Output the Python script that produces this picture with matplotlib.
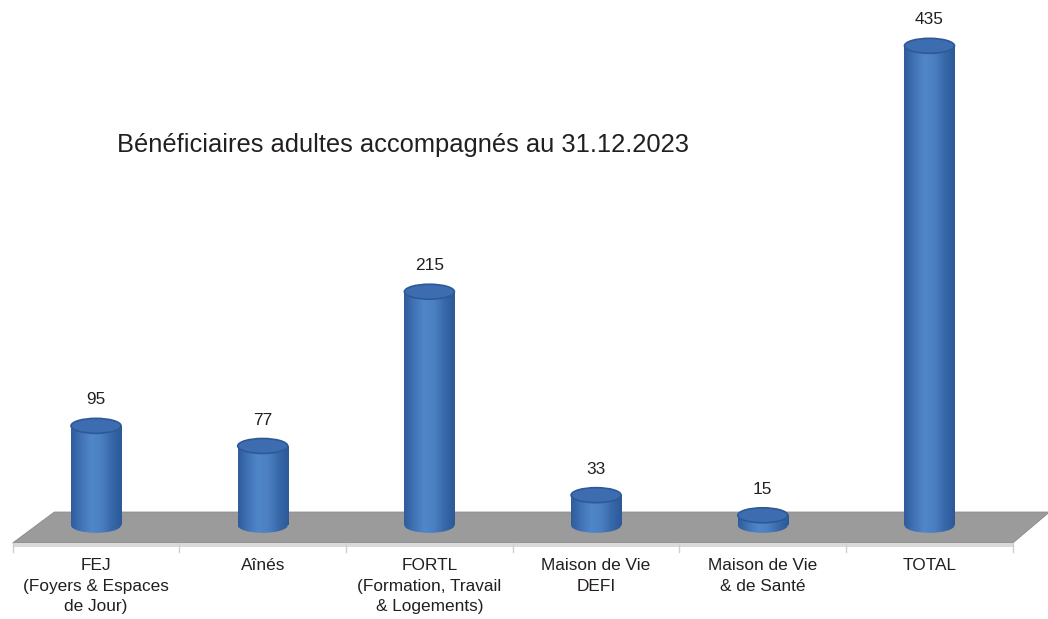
import numpy as np
import matplotlib
matplotlib.use("Agg")
import matplotlib.pyplot as plt
from matplotlib.patches import Ellipse, Polygon
from matplotlib.colors import LinearSegmentedColormap

plt.rcParams["font.family"] = ["Liberation Sans", "DejaVu Sans"]

title = "Bénéficiaires adultes accompagnés au 31.12.2023"
categories = [
    "FEJ\n(Foyers & Espaces\nde Jour)",
    "Aînés",
    "FORTL\n(Formation, Travail\n& Logements)",
    "Maison de Vie\nDEFI",
    "Maison de Vie\n& de Santé",
    "TOTAL",
]
values = [95, 77, 215, 33, 15, 435]

# look of the fake 3D chart
bar_w = 0.30          # cylinder width (category units)
ell_h = 13.4          # ellipse height (value units)
base = 6              # where the cylinders stand on the floor
text_col = "#231f20"

cyl_cmap = LinearSegmentedColormap.from_list(
    "cyl", ["#2e5c9c", "#4274b7", "#5087c9", "#4b7fc1", "#3869aa", "#2c5998"])
grad = cyl_cmap(np.linspace(0, 1, 64))[None, :, :3]

fig = plt.figure(figsize=(10.48, 6.19), dpi=100)
ax = fig.add_axes([0, 0, 1, 1])
ax.axis("off")

x = np.arange(len(categories))
n = len(categories)

# floor
front, back = -9.8, 17.9
shift = 0.22
floor = Polygon([(-0.5, front), (n - 0.5, front), (n - 0.5 + shift, back), (-0.5 + shift + 0.03, back)],
                closed=True, facecolor="#9b9b9b", edgecolor="#8a8a8a", lw=0.6, zorder=1)
ax.add_patch(floor)
strip = Polygon([(-0.5, front), (n - 0.5, front), (n - 0.5, front - 3.2), (-0.5, front - 3.2)],
                closed=True, facecolor="#d9d9d9", edgecolor="none", zorder=1)
ax.add_patch(strip)
for b in np.arange(n + 1) - 0.5:
    ax.plot([b, b], [front, front - 8], color="#cfcfcf", lw=1, zorder=1)

# cylinders
bars = ax.bar(x, np.array(values) - base, bottom=base, width=bar_w,
              color="#3f72b6", edgecolor="none", zorder=3)
for xi, v, rect in zip(x, values, bars):
    bottom = Ellipse((xi, base), bar_w, ell_h, facecolor="none", edgecolor="none", zorder=3)
    ax.add_patch(bottom)
    im = ax.imshow(grad, extent=[xi - bar_w / 2, xi + bar_w / 2, base - ell_h, v],
                   aspect="auto", zorder=3, interpolation="bilinear")
    im.set_clip_path(rect)
    im2 = ax.imshow(grad, extent=[xi - bar_w / 2, xi + bar_w / 2, base - ell_h, v],
                    aspect="auto", zorder=3, interpolation="bilinear")
    im2.set_clip_path(bottom)
    ax.add_patch(Ellipse((xi, v), bar_w, ell_h, facecolor="#3d6db0",
                         edgecolor="#2d5a96", lw=1.2, zorder=4))
    ax.annotate(str(v), (xi, v), xytext=(0, 18.7), textcoords="offset points",
                ha="center", va="center", fontsize=12.4, color=text_col)

for xi, lab in zip(x, categories):
    ax.text(xi, -23.3, lab, ha="center", va="top", fontsize=12.4,
            color=text_col, linespacing=1.47)

fig.text(117 / 1048, 1 - 145 / 619, title, ha="left", va="center",
         fontsize=18.4, color=text_col)

ax.set_xlim(-0.576, 5.711)
ax.set_ylim(-77.8, 476.0)

fig.savefig("out.png", dpi=100)
